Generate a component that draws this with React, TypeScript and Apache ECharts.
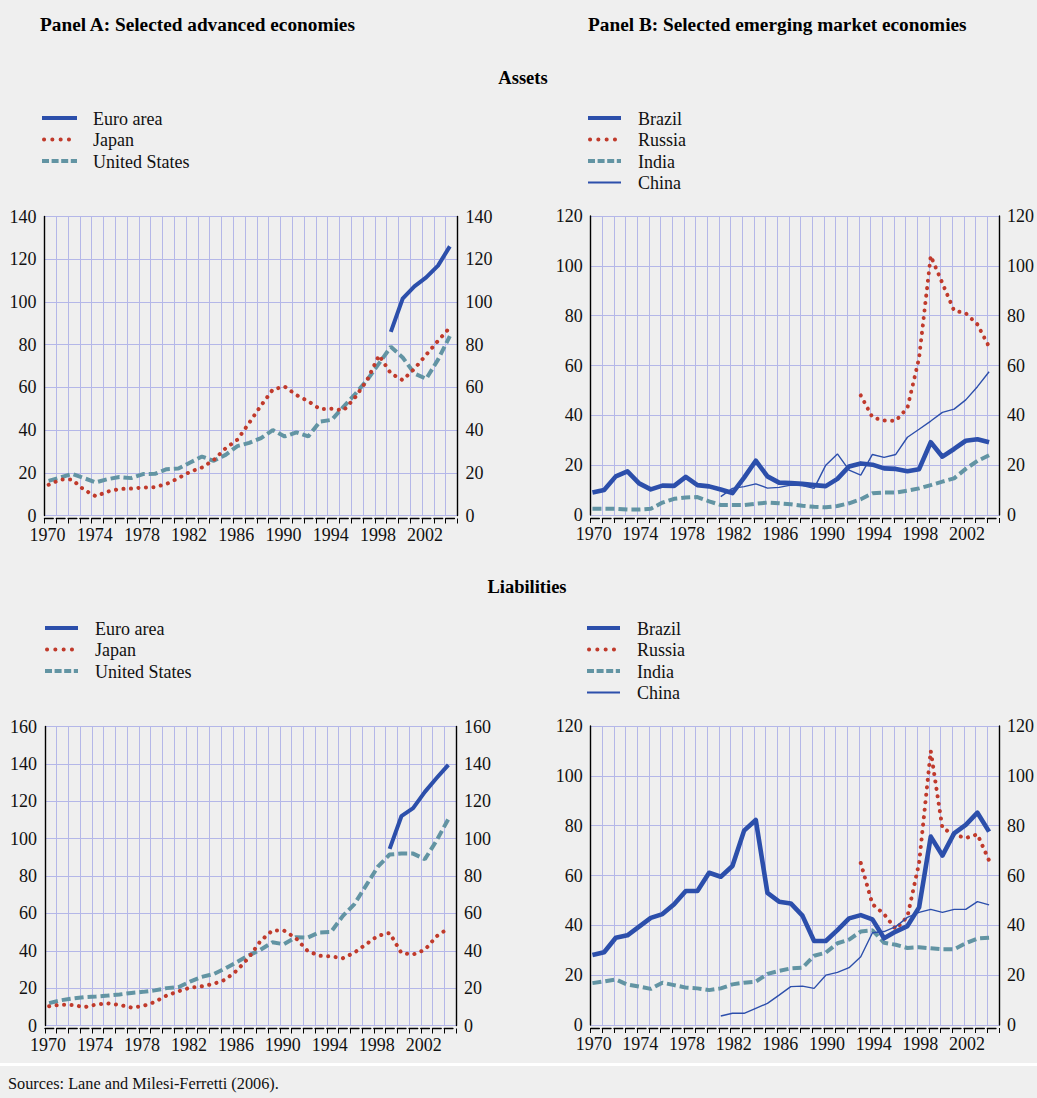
import React, { useEffect, useRef } from "react";
import * as echarts from "echarts";

const N = null;
const years = [
  1970, 1971, 1972, 1973, 1974, 1975, 1976, 1977, 1978, 1979,
  1980, 1981, 1982, 1983, 1984, 1985, 1986, 1987, 1988, 1989,
  1990, 1991, 1992, 1993, 1994, 1995, 1996, 1997, 1998, 1999,
  2000, 2001, 2002, 2003, 2004,
];
const tickYears = [1970, 1974, 1978, 1982, 1986, 1990, 1994, 1998, 2002];

// Panel A — Assets (% of GDP)
const euroAssets = [N, N, N, N, N, N, N, N, N, N, N, N, N, N, N, N, N, N, N, N, N, N, N, N, N, N, N, N, N, 86, 101.5, 107.3, 111.5, 117, 126];
const japanAssets = [14.4, 16.8, 16.8, 12, 9, 11.2, 12.4, 12.6, 13.1, 13.3, 14.8, 17.5, 20.5, 22.5, 26, 31.5, 35.5, 43.4, 51.5, 59, 60.4, 56.4, 53.5, 49.8, 50, 49.2, 55.5, 63.5, 75, 66.5, 63.4, 68.7, 75.3, 81.8, 88];
const usAssets = [16.2, 17.8, 19.5, 17.5, 15.5, 17, 18, 17.5, 19.4, 19.5, 21.7, 22, 24.8, 27.6, 25.6, 28.4, 32.5, 34, 36.2, 40, 37, 38.9, 37, 44, 44.8, 51, 57, 63.5, 71.2, 79, 74, 66.5, 64, 73, 84];

// Panel A — Liabilities
const euroLiab = [N, N, N, N, N, N, N, N, N, N, N, N, N, N, N, N, N, N, N, N, N, N, N, N, N, N, N, N, N, 94.5, 112, 116.3, 125, 132.4, 139.5];
const japanLiab = [10.3, 11.1, 11, 9.8, 11.2, 11.8, 11, 9.6, 10.4, 12.6, 16, 18.3, 20.2, 21, 22.3, 24.5, 29.5, 36.3, 45.2, 50.8, 50.8, 46.8, 40, 37.3, 37, 36, 39, 43.5, 48, 49.5, 38.8, 38, 40.5, 47.8, 52];
const usLiab = [12, 13.5, 14.5, 15.2, 15.5, 16, 16.6, 17.4, 18, 18.8, 20, 20.5, 23.5, 26, 27.5, 30.5, 34, 37.5, 40.5, 44.5, 43.5, 47.2, 47, 49.8, 50, 58.5, 65, 75, 85, 91.5, 92, 92, 89, 99, 110.5];

// Panel B — Assets
const brazilAssets = [9, 10, 15.5, 17.5, 12.7, 10.3, 11.8, 11.7, 15.3, 12, 11.5, 10.2, 8.8, 15, 21.8, 15.5, 13, 12.8, 12.5, 12, 11.6, 14.5, 19.5, 20.7, 20.2, 18.7, 18.5, 17.6, 18.4, 29.2, 23.4, 26.5, 29.8, 30.4, 29.2];
const russiaAssets = [N, N, N, N, N, N, N, N, N, N, N, N, N, N, N, N, N, N, N, N, N, N, N, 48, 39.2, 37.9, 37.8, 43, 63, 104, 93, 82, 81, 76.5, 67.5];
const indiaAssets = [2.5, 2.5, 2.5, 2.2, 2.2, 2.5, 5, 6.5, 7, 7.2, 5.5, 4, 4, 4, 4.5, 5, 4.7, 4.3, 3.7, 3.3, 3.1, 3.6, 4.7, 6.3, 8.7, 9, 9, 9.8, 10.7, 12, 13.4, 14.7, 18.5, 21.7, 24];
const chinaAssets = [N, N, N, N, N, N, N, N, N, N, N, 7.4, 10.7, 11.4, 12.5, 10.8, 11.1, 12, 11.8, 10.7, 20, 24.5, 18, 16, 24.3, 23.1, 24.3, 31.2, 34.4, 37.7, 41.2, 42.5, 46.2, 51.5, 57.5];

// Panel B — Liabilities
const brazilLiab = [28.1, 29.2, 35, 36, 39.5, 43, 44.5, 48.5, 53.8, 53.8, 61.1, 59.5, 63.8, 78, 82.3, 53, 49.5, 48.8, 43.9, 33.7, 33.7, 38.1, 42.8, 44.1, 42.4, 34.8, 37.5, 39.7, 47.2, 75.6, 68, 76.9, 80.3, 85.2, 77.6];
const russiaLiab = [N, N, N, N, N, N, N, N, N, N, N, N, N, N, N, N, N, N, N, N, N, N, N, 65, 48.5, 44.5, 38.5, 43.5, 65, 110, 79, 76.5, 75, 76.5, 66];
const indiaLiab = [16.8, 17.5, 18.3, 16.2, 15.4, 14.5, 17, 16, 15, 14.7, 14, 14.7, 16.3, 17, 17.4, 20.5, 21.7, 22.7, 23, 27.8, 29, 32.8, 34.3, 37.5, 38, 33, 32.2, 30.9, 31.2, 30.8, 30.4, 30.4, 32.8, 34.7, 35];
const chinaLiab = [N, N, N, N, N, N, N, N, N, N, N, 3.6, 4.7, 4.7, 6.7, 8.7, 12, 15.4, 15.6, 14.7, 20, 21.1, 23, 27.4, 37, 37.5, 39.5, 43.2, 45.2, 46.4, 45.2, 46.4, 46.4, 49.5, 48.2];

const FONT = "'Liberation Serif', 'Times New Roman', serif";
const BG = "#efefef";
const GRIDC = "#b4b7e8";
const BLUE = "#2c4fab";
const RED = "#c03a2b";
const TEAL = "#6294a3";
const TXT = "#111111";

const pairs = (vals: (number | null)[]) =>
  years.map((y, i) => [y, vals[i]]).filter((p) => p[1] !== null);

const styles: Record<string, any> = {
  thick: { color: BLUE, width: 4, type: "solid", join: "round" },
  thickB: { color: BLUE, width: 4.6, type: "solid", join: "round" },
  dotted: { color: RED, width: 4, type: [0.1, 7.4], cap: "round" },
  dashed: { color: TEAL, width: 4, type: [9, 4], cap: "butt" },
  thin: { color: BLUE, width: 1.4, type: "solid" },
};

const grids = [
  { left: 44.5, top: 216.5, width: 413, height: 299, off: 0.35, ymax: 140 },
  { left: 590.7, top: 216, width: 408.3, height: 299, off: 0.15, ymax: 120 },
  { left: 45, top: 726.5, width: 411, height: 299, off: 0.35, ymax: 160 },
  { left: 590.7, top: 726, width: 408.3, height: 299, off: 0.15, ymax: 120 },
];

const seriesDefs = [
  { g: 0, name: "United States", data: usAssets, style: "dashed", z: 3 },
  { g: 0, name: "Japan", data: japanAssets, style: "dotted", z: 4 },
  { g: 0, name: "Euro area", data: euroAssets, style: "thick", z: 5 },
  { g: 1, name: "India", data: indiaAssets, style: "dashed", z: 3 },
  { g: 1, name: "Russia", data: russiaAssets, style: "dotted", z: 4 },
  { g: 1, name: "Brazil", data: brazilAssets, style: "thickB", z: 5 },
  { g: 1, name: "China", data: chinaAssets, style: "thin", z: 6 },
  { g: 2, name: "United States", data: usLiab, style: "dashed", z: 3 },
  { g: 2, name: "Japan", data: japanLiab, style: "dotted", z: 4 },
  { g: 2, name: "Euro area", data: euroLiab, style: "thick", z: 5 },
  { g: 3, name: "India", data: indiaLiab, style: "dashed", z: 3 },
  { g: 3, name: "Russia", data: russiaLiab, style: "dotted", z: 4 },
  { g: 3, name: "Brazil", data: brazilLiab, style: "thickB", z: 5 },
  { g: 3, name: "China", data: chinaLiab, style: "thin", z: 6 },
];

const legendA = [
  { name: "Euro area", style: "thick" },
  { name: "Japan", style: "dotted" },
  { name: "United States", style: "dashed" },
];
const legendB = [
  { name: "Brazil", style: "thickB" },
  { name: "Russia", style: "dotted" },
  { name: "India", style: "dashed" },
  { name: "China", style: "thin" },
];

function legendGraphics(items: any[], x1: number, x2: number, tx: number, y0: number) {
  const out: any[] = [];
  items.forEach((it, i) => {
    const y = y0 + i * 21.5;
    const s = styles[it.style];
    let lineDash: any = null;
    let cap = "butt";
    if (it.style === "dotted") { lineDash = [0.1, 8.2]; cap = "round"; }
    if (it.style === "dashed") { lineDash = [7, 2.6]; }
    out.push({
      type: "line",
      shape: { x1: it.style === "dotted" ? x1 + 2 : x1, y1: y, x2, y2: y },
      style: { stroke: s.color, lineWidth: it.style === "thin" ? 2 : 4, lineDash, lineCap: cap },
      silent: true,
    });
    out.push({
      type: "text",
      x: tx,
      y: y + 0.5,
      style: { text: it.name, font: `18px ${FONT}`, fill: TXT, align: "left", verticalAlign: "middle" },
      silent: true,
    });
  });
  return out;
}

function boldText(text: string, x: number, y: number, size: number, align = "left") {
  return {
    type: "text",
    x,
    y,
    style: { text, font: `bold ${size}px ${FONT}`, fill: "#000", align, verticalAlign: "middle" },
    silent: true,
  };
}

export default function App() {
  const ref = useRef<HTMLDivElement>(null);

  useEffect(() => {
    if (!ref.current) return;
    const chart = echarts.init(ref.current, null, { renderer: "svg" });

    const xAxis = grids.map((g, i) => {
      const band = g.width / 35;
      return {
        type: "value",
        gridIndex: i,
        min: 1970 - g.off,
        max: 2005 - g.off,
        interval: 1,
        offset: 3,
        axisLine: {
          show: true,
          onZero: false,
          lineStyle: { color: "#000", width: 1.4, type: [band * 0.74, band * 0.26] },
        },
        axisTick: { show: true, length: 5, lineStyle: { color: "#000", width: 1 } },
        splitLine: { show: true, lineStyle: { color: GRIDC, width: 1 } },
        axisLabel: {
          color: TXT,
          fontFamily: FONT,
          fontSize: 18,
          margin: 7,
          padding: [0, 0, 0, 6],
          showMinLabel: true,
          showMaxLabel: true,
          formatter: (v: number) => {
            const y = Math.round(v + g.off);
            return tickYears.includes(y) ? String(y) : "";
          },
        },
      };
    });

    const yAxis: any[] = [];
    grids.forEach((g, i) => {
      yAxis.push({
        type: "value",
        gridIndex: i,
        position: "left",
        min: 0,
        max: g.ymax,
        interval: 20,
        axisLine: { show: true, lineStyle: { color: "#000", width: 1.4 } },
        axisTick: { show: false },
        splitLine: { show: true, lineStyle: { color: GRIDC, width: 1 } },
        axisLabel: { color: TXT, fontFamily: FONT, fontSize: 18, margin: 8 },
      });
      yAxis.push({
        type: "value",
        gridIndex: i,
        position: "right",
        min: 0,
        max: g.ymax,
        interval: 20,
        axisLine: { show: true, lineStyle: { color: "#000", width: 1.4 } },
        axisTick: { show: false },
        splitLine: { show: false },
        axisLabel: { color: TXT, fontFamily: FONT, fontSize: 18, margin: 8 },
      });
    });

    const series = seriesDefs.map((s) => ({
      type: "line",
      name: s.name,
      xAxisIndex: s.g,
      yAxisIndex: s.g * 2,
      data: pairs(s.data),
      symbol: "none",
      showSymbol: false,
      silent: true,
      z: s.z,
      lineStyle: styles[s.style],
    }));

    const graphic: any[] = [
      boldText("Panel A: Selected advanced economies", 40, 24, 19.3),
      boldText("Panel B: Selected emerging market economies", 588, 24, 19.3),
      boldText("Assets", 523, 78, 18.5, "center"),
      boldText("Liabilities", 527, 587, 18.5, "center"),
      ...legendGraphics(legendA, 42, 77, 93, 118),
      ...legendGraphics(legendB, 588, 621, 638, 118),
      ...legendGraphics(legendA, 45, 78, 95, 628),
      ...legendGraphics(legendB, 587, 620, 637, 628),
      {
        type: "rect",
        shape: { x: 0, y: 1063, width: 1037, height: 3 },
        style: { fill: "#ffffff" },
        silent: true,
      },
      {
        type: "text",
        x: 8,
        y: 1083,
        style: {
          text: "Sources: Lane and Milesi-Ferretti (2006).",
          font: `16.3px ${FONT}`,
          fill: TXT,
          align: "left",
          verticalAlign: "middle",
        },
        silent: true,
      },
    ];

    chart.setOption({
      animation: false,
      backgroundColor: BG,
      grid: grids.map((g) => ({ left: g.left, top: g.top, width: g.width, height: g.height, containLabel: false })),
      xAxis,
      yAxis,
      series,
      graphic,
    });

    return () => chart.dispose();
  }, []);

  return (
    <div
      ref={ref}
      style={{ position: "absolute", left: 0, top: 0, width: 1037, height: 1098, background: BG }}
    />
  );
}
